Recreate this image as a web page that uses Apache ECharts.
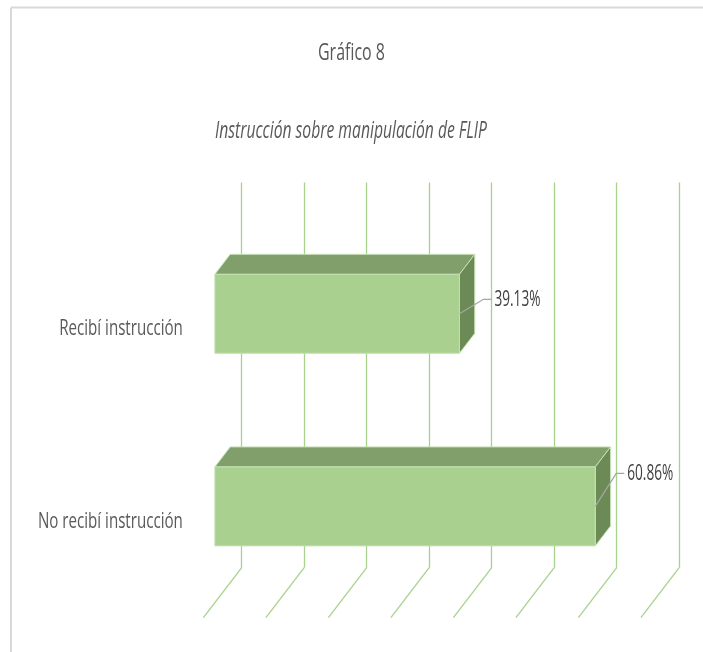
<!DOCTYPE html>
<html>
<head>
<meta charset="utf-8">
<script src="https://cdn.jsdelivr.net/npm/echarts@6/dist/echarts.min.js"></script>
<style>
  html, body { margin: 0; padding: 0; background: #ffffff; }
  #chart { width: 703px; height: 652px; }
</style>
</head>
<body>
<div id="chart"></div>
<script>
// ---- data ----
const categories = ['Recibí instrucción', 'No recibí instrucción'];
const percentages = [39.13, 60.86];
const valueLabels = ['39.13%', '60.86%'];
const axisTicks = [0, 10, 20, 30, 40, 50, 60, 70];
const chartTitle = 'Gráfico 8';
const chartSubtitle = 'Instrucción sobre manipulación de FLIP';

// ---- styling ----
const FONT = '"Open Sans", "Noto Sans", sans-serif';
const TEXT_COLOR = '#595959';
const GRID_COLOR = '#a9d18e';
const FACE_FRONT = '#a9d08e';
const FACE_TOP = '#819f6b';
const FACE_SIDE = '#6b8a56';
const EDGE = '#c6e0b4';
const DEPTH_X = 38.3;   // floor depth, front edge to back wall
const DEPTH_Y = 50;
const BAR_FRONT = 0.3;  // bar occupies the middle of the depth
const BAR_BACK = 0.7;
// leader-line elbow offsets for each value label
const labelElbows = [[24, -14.5], [21, -33]];

// the text is drawn horizontally condensed
const measureCtx = document.createElement('canvas').getContext('2d');
function squeeze(text, font, width) {
  measureCtx.font = font;
  return width / measureCtx.measureText(text).width;
}
const catFont = '22px ' + FONT;
const catScale = squeeze(categories[1], catFont, 145);
const valFont = '22px ' + FONT;
const valScale = squeeze(valueLabels[0], valFont, 46);
const titleFont = '23px ' + FONT;
const titleScale = squeeze(chartTitle, titleFont, 67);
const subFont = 'italic 23px ' + FONT;
const subScale = squeeze(chartSubtitle, subFont, 272);

// shift a back-wall point towards the viewer; d = 1 is the back wall, 0 the front
function depthPoint(x, y, d) {
  return [x - (1 - d) * DEPTH_X, y + (1 - d) * DEPTH_Y];
}

function renderBar(params, api) {
  const ci = api.value(0);
  const v = api.value(1);
  const a = api.coord([0, ci]);
  const b = api.coord([v, ci]);
  const h = api.size([0, 1])[1] * 0.205;
  const x0 = a[0], x1 = b[0], yc = a[1];
  const top = yc - h, bot = yc + h;
  const F = BAR_FRONT, B = BAR_BACK;
  const edge = { stroke: EDGE, lineWidth: 1 };

  const start = depthPoint(x1, yc, F);
  const off = labelElbows[params.dataIndex];
  const elbow = [start[0] + off[0], start[1] + off[1]];
  const tail = [elbow[0] + 8, elbow[1]];
  const catPos = depthPoint(x0, yc, 0);

  return {
    type: 'group',
    children: [
      { type: 'polygon', shape: { points: [depthPoint(x0, top, F), depthPoint(x1, top, F), depthPoint(x1, top, B), depthPoint(x0, top, B)] },
        style: Object.assign({ fill: FACE_TOP }, edge) },
      { type: 'polygon', shape: { points: [depthPoint(x1, top, F), depthPoint(x1, top, B), depthPoint(x1, bot, B), depthPoint(x1, bot, F)] },
        style: Object.assign({ fill: FACE_SIDE }, edge) },
      { type: 'polygon', shape: { points: [depthPoint(x0, top, F), depthPoint(x1, top, F), depthPoint(x1, bot, F), depthPoint(x0, bot, F)] },
        style: Object.assign({ fill: FACE_FRONT }, edge) },
      { type: 'polyline', shape: { points: [start, elbow, tail] },
        style: { stroke: '#a6a6a6', lineWidth: 1.3, fill: null } },
      { type: 'text', x: tail[0] + 3, y: elbow[1], scaleX: valScale,
        style: { text: valueLabels[params.dataIndex], font: valFont, fill: '#404040', align: 'left', verticalAlign: 'middle' } },
      { type: 'text', x: catPos[0] - 20.5, y: catPos[1], scaleX: catScale,
        style: { text: categories[ci], font: catFont, fill: TEXT_COLOR, align: 'right', verticalAlign: 'middle' } }
    ]
  };
}

function renderFloorLine(params, api) {
  const cs = params.coordSys;
  const p = api.coord([api.value(0), 0]);
  const yb = cs.y + cs.height;
  return {
    type: 'line',
    shape: { x1: p[0], y1: yb, x2: p[0] - DEPTH_X, y2: yb + DEPTH_Y },
    style: { stroke: GRID_COLOR, lineWidth: 1.3 }
  };
}

const chart = echarts.init(document.getElementById('chart'), null, { renderer: 'canvas' });
chart.setOption({
  backgroundColor: '#ffffff',
  animation: false,
  grid: { left: 241.7, right: 23.8, top: 182.5, bottom: 84.3 },
  xAxis: {
    type: 'value', min: 0, max: 70, interval: 10,
    axisLabel: { show: false }, axisLine: { show: false }, axisTick: { show: false },
    splitLine: { show: true, lineStyle: { color: GRID_COLOR, width: 1.3 } }
  },
  yAxis: {
    type: 'category', data: categories, inverse: true,
    axisLabel: { show: false }, axisLine: { show: false }, axisTick: { show: false },
    splitLine: { show: false }
  },
  graphic: [
    { type: 'line', shape: { x1: 11, y1: 7.5, x2: 703, y2: 7.5 }, style: { stroke: '#d9d9d9', lineWidth: 2 } },
    { type: 'line', shape: { x1: 11, y1: 7.5, x2: 11, y2: 652 }, style: { stroke: '#d9d9d9', lineWidth: 2 } },
    { type: 'text', x: 351.5, y: 53.5, scaleX: titleScale,
      style: { text: chartTitle, font: titleFont, fill: TEXT_COLOR, align: 'center', verticalAlign: 'middle' } },
    { type: 'text', x: 351, y: 131.5, scaleX: subScale,
      style: { text: chartSubtitle, font: subFont, fill: TEXT_COLOR, align: 'center', verticalAlign: 'middle' } }
  ],
  series: [
    {
      type: 'custom', name: 'floor', z: 1, silent: true,
      renderItem: renderFloorLine,
      data: axisTicks.map(t => [t]),
      encode: { x: 0 }
    },
    {
      type: 'custom', name: 'Instrucción', z: 2,
      renderItem: renderBar,
      data: percentages.map((v, i) => [i, v]),
      encode: { y: 0, x: 1 }
    }
  ]
});
</script>
</body>
</html>
